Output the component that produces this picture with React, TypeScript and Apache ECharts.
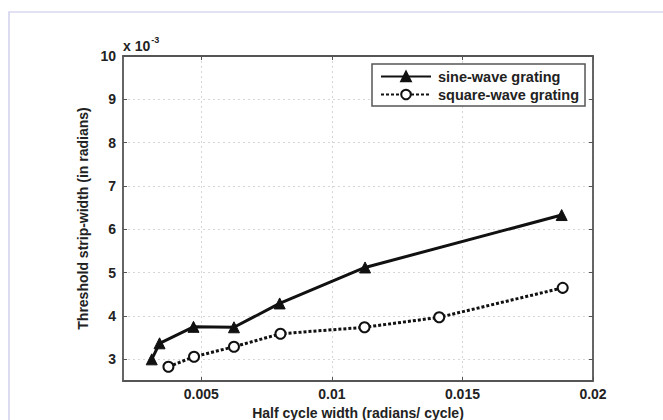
import React, { useEffect, useRef } from "react";
import * as echarts from "echarts";

const sineX = [0.0031, 0.0034, 0.0047, 0.00625, 0.008, 0.01127, 0.0188];
const sineY = [3.0, 3.37, 3.75, 3.74, 4.29, 5.12, 6.33];
const squareX = [0.00374, 0.00472, 0.00625, 0.00803, 0.01125, 0.01411, 0.01884];
const squareY = [2.83, 3.06, 3.29, 3.59, 3.74, 3.97, 4.65];
const xTicks = [0.005, 0.01, 0.015, 0.02];
const yTicks = [3, 4, 5, 6, 7, 8, 9, 10];
const seriesNames = ["sine-wave grating", "square-wave grating"];

const FONT = "'Liberation Sans', Arial, sans-serif";
const AXIS_COLOR = "#555";

export default function App() {
  const ref = useRef<HTMLDivElement>(null);
  useEffect(() => {
    if (!ref.current) return;
    const chart = echarts.init(ref.current, null, { renderer: "svg" });
    const labelStyle = {
      fontFamily: FONT,
      fontSize: 14,
      fontWeight: "bold" as const,
      color: "#222",
    };
    const splitLine = {
      show: true,
      lineStyle: { color: "#d6d6d6", type: [2, 3] as any, width: 1 },
    };
    const mkX = (primary: boolean) => ({
      type: "value",
      position: primary ? "bottom" : "top",
      min: 0.002,
      max: 0.02,
      name: primary ? "Half cycle width (radians/ cycle)" : "",
      nameLocation: "middle",
      nameGap: 23,
      nameTextStyle: { ...labelStyle, lineHeight: 15 },
      axisLine: { show: true, onZero: false, lineStyle: { color: AXIS_COLOR, width: 1.8 } },
      axisTick: { show: true, inside: true, length: 4, customValues: xTicks, lineStyle: { color: AXIS_COLOR } },
      axisLabel: {
        show: primary,
        customValues: xTicks,
        margin: 6,
        formatter: (v: number) => String(+v.toFixed(4)),
        ...labelStyle,
      },
      splitLine: primary ? splitLine : { show: false },
    });
    const mkY = (primary: boolean) => ({
      type: "value",
      position: primary ? "left" : "right",
      min: 2.5,
      max: 10,
      name: primary ? "Threshold strip-width (in radians)" : "",
      nameLocation: "middle",
      nameGap: 33,
      nameTextStyle: { ...labelStyle },
      axisLine: { show: true, onZero: false, lineStyle: { color: AXIS_COLOR, width: 1.8 } },
      axisTick: { show: true, inside: true, length: 4, customValues: yTicks, lineStyle: { color: AXIS_COLOR } },
      axisLabel: {
        show: primary,
        customValues: yTicks,
        margin: 7,
        ...labelStyle,
      },
      splitLine: primary ? splitLine : { show: false },
    });
    chart.setOption({
      animation: false,
      backgroundColor: "#fff",
      grid: {
        left: 123,
        top: 56,
        right: 70,
        bottom: 39,
        containLabel: false,
        outerBoundsMode: "none",
      },
      xAxis: [mkX(true), mkX(false)],
      yAxis: [mkY(true), mkY(false)],
      legend: {
        orient: "vertical",
        left: 372,
        top: 64,
        padding: [5, 6, 4, 8],
        itemGap: 3,
        itemWidth: 50,
        itemHeight: 12,
        borderColor: AXIS_COLOR,
        borderWidth: 1.5,
        backgroundColor: "#fff",
        data: seriesNames,
        textStyle: { ...labelStyle, fontSize: 14.5, padding: [0, 0, 0, 2] },
      },
      series: [
        {
          name: seriesNames[0],
          type: "line",
          data: sineX.map((x, i) => [x, sineY[i]]),
          symbol: "triangle",
          symbolSize: 11,
          lineStyle: { color: "#111", width: 3, type: "solid" },
          itemStyle: { color: "#111", borderColor: "#111", borderWidth: 1 },
          z: 3,
        },
        {
          name: seriesNames[1],
          type: "line",
          data: squareX.map((x, i) => [x, squareY[i]]),
          symbol: "emptyCircle",
          symbolSize: 10,
          lineStyle: { color: "#111", width: 3, type: [3, 2] },
          itemStyle: { color: "#111", borderColor: "#111", borderWidth: 3 },
          z: 3,
        },
      ],
      graphic: [
        {
          type: "rect",
          shape: { x: 9, y: 12, width: 700, height: 450 },
          style: { fill: "none", stroke: "#c4c4e8", lineWidth: 1.2 },
          silent: true,
          z: -1,
        },
        {
          type: "text",
          left: 123,
          top: 35,
          style: {
            text: "{b|x 10}{s|-3}",
            rich: {
              b: { font: `bold 14px ${FONT}`, fill: "#222", padding: [4, 0, 0, 0] },
              s: { font: `bold 9px ${FONT}`, fill: "#222", padding: [0, 0, 8, 1] },
            },
          },
        },
      ],
    });
    return () => chart.dispose();
  }, []);
  return (
    <div
      ref={ref}
      style={{ position: "absolute", left: 0, top: 0, width: 663, height: 420 }}
    />
  );
}
